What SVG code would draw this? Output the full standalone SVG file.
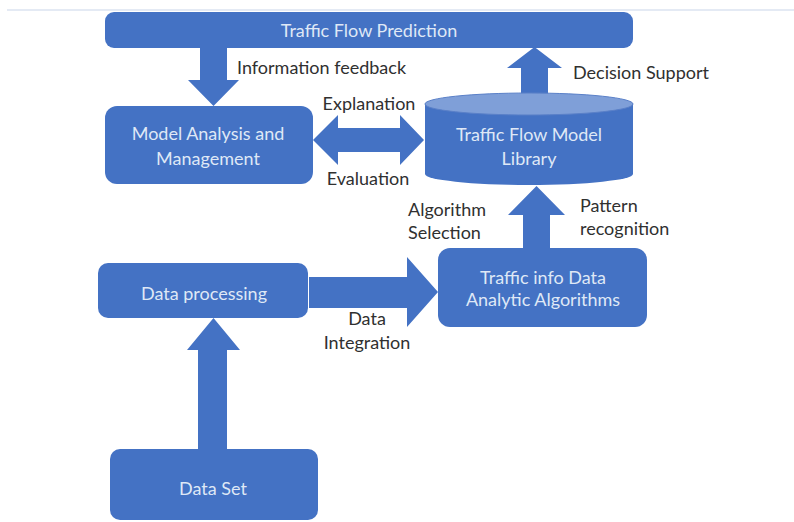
<svg xmlns="http://www.w3.org/2000/svg" width="794" height="522" viewBox="0 0 794 522">
<style>
.box{fill:#4472c4;}
.arrow{fill:#4472c4;}
.bt{font-family:Lato,"Liberation Sans",sans-serif;font-size:18px;fill:#dfe8f6;text-anchor:middle;dominant-baseline:central;}
.lb{font-family:Lato,"Liberation Sans",sans-serif;font-size:18px;fill:#303030;dominant-baseline:central;}
.mid{text-anchor:middle;}
</style>
<rect x="0" y="0" width="794" height="522" fill="#ffffff"/>
<line x1="7" y1="10" x2="794" y2="10" stroke="#c9d6ea" stroke-width="1.2"/>

<g id="connectors">
  <polygon class="arrow" points="200,47 227,47 227,80 239,80 213.5,106 188,80 200,80"/>
  <polygon class="arrow" points="521,94 548,94 548,68 562,68 534.5,47 507,68 521,68"/>
  <polygon class="arrow" points="313,140 338,115 338,128 400,128 400,115 424,140 400,165 400,152 338,152 338,165"/>
  <polygon class="arrow" points="523,249 550,249 550,215 565,215 536.5,186 508,215 523,215"/>
  <polygon class="arrow" points="309,277 407,277 407,257 438,292 407,327 407,308 309,308"/>
  <polygon class="arrow" points="198,450 227,450 227,350 240,350 213.5,318 187,350 198,350"/>
</g>

<g id="traffic-flow-prediction">
  <rect class="box" x="105" y="12" width="528" height="36" rx="9"/>
  <text class="bt" x="369" y="30">Traffic Flow Prediction</text>
</g>

<g id="model-analysis">
  <rect class="box" x="105" y="106" width="208" height="78" rx="12"/>
  <text class="bt" x="208" y="133">Model Analysis and</text>
  <text class="bt" x="208" y="158">Management</text>
</g>

<g id="model-library">
  <path class="box" d="M425,104 L425,174 A104,11 0 0 0 633,174 L633,104 Z"/>
  <ellipse cx="529" cy="104" rx="104" ry="11" fill="#7f9fd8" stroke="#5a80c8" stroke-width="1"/>
  <text class="bt" x="529" y="134">Traffic Flow Model</text>
  <text class="bt" x="529" y="158">Library</text>
</g>

<g id="analytic-algorithms">
  <rect class="box" x="438" y="248" width="209" height="79" rx="12"/>
  <text class="bt" x="543" y="277">Traffic info Data</text>
  <text class="bt" x="543" y="299">Analytic Algorithms</text>
</g>

<g id="data-processing">
  <rect class="box" x="98" y="263" width="210" height="55" rx="10"/>
  <text class="bt" x="204" y="293">Data processing</text>
</g>

<g id="data-set">
  <rect class="box" x="110" y="449" width="208" height="71" rx="10"/>
  <text class="bt" x="213" y="488">Data Set</text>
</g>

<g id="labels">
  <text class="lb" x="237" y="67">Information feedback</text>
  <text class="lb" x="573" y="72">Decision Support</text>
  <text class="lb mid" x="369" y="103">Explanation</text>
  <text class="lb mid" x="368" y="178">Evaluation</text>
  <text class="lb" x="408" y="209">Algorithm</text>
  <text class="lb" x="408" y="232">Selection</text>
  <text class="lb" x="580" y="205">Pattern</text>
  <text class="lb" x="580" y="228">recognition</text>
  <text class="lb mid" x="367" y="318">Data</text>
  <text class="lb mid" x="367" y="342">Integration</text>
</g>
</svg>
